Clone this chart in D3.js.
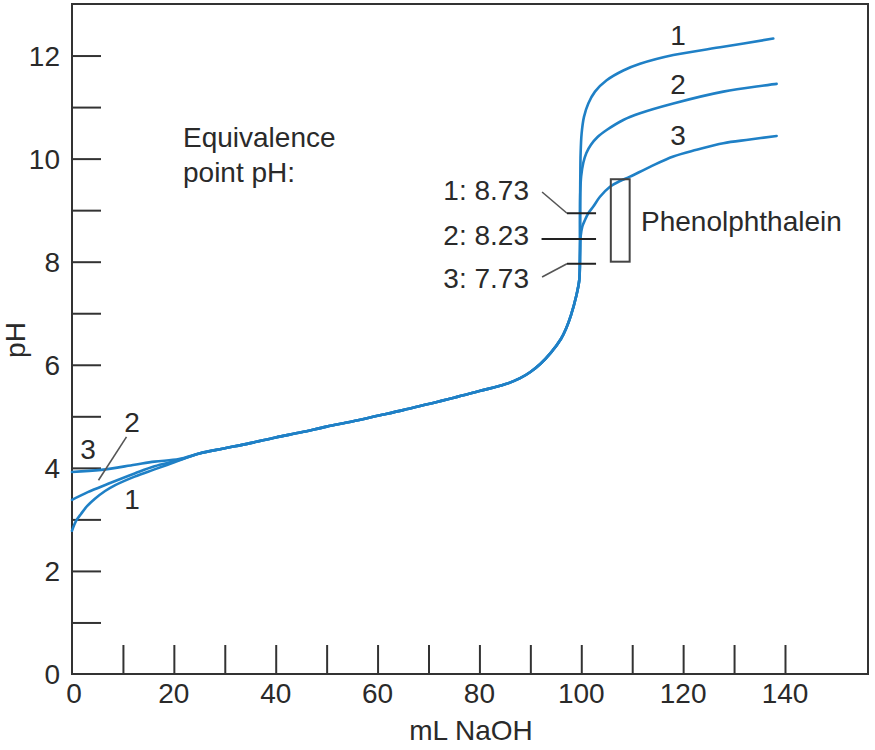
<!DOCTYPE html>
<html><head><meta charset="utf-8">
<script src="https://cdn.jsdelivr.net/npm/d3@7"></script>
<style>
html,body{margin:0;padding:0;background:#fff;}
svg{display:block;}
text{font-family:"Liberation Sans",Arial,Helvetica,sans-serif;fill:#2a2a2a;}
</style></head>
<body><svg id="chart" width="875" height="750"></svg>
<script>
// ---- data ----
const xTicks = [0,10,20,30,40,50,60,70,80,90,100,110,120,130,140];
const xTickLabels = [0,20,40,60,80,100,120,140];
const yTicks = [1,2,3,4,5,6,7,8,9,10,11,12];
const yTickLabels = [0,2,4,6,8,10,12];

// initial parts (before the curves merge)
const start1ML = [0,0.8,1.8,3,4.5,6.5,8.4,12.3,16.2,21];
const start1PH = [2.78,2.97,3.11,3.26,3.40,3.55,3.66,3.83,3.97,4.14];
const start2ML = [0,3.1,7.1,12.3,16.2,21];
const start2PH = [3.38,3.53,3.69,3.89,4.03,4.15];
const start3ML = [0,5.75,12.3,16.2,21];
const start3PH = [3.92,3.96,4.06,4.12,4.17];

// shared buffer region
const sharedML = [25,30,35,40,45,50,55,60,65,70,75,80,85,88,90,92,94,96,97,98,99,99.6,99.75];
const sharedPH = [4.28,4.38,4.48,4.59,4.69,4.80,4.90,5.01,5.12,5.24,5.36,5.49,5.62,5.74,5.86,6.02,6.23,6.50,6.70,6.97,7.33,7.64,8.16];

// tails after the equivalence point
const tail1ML = [99.76,99.78,99.81,99.87,100.07,100.53,101.38,102.69,104.98,108.25,111.53,118.07,127.89,137.7];
const tail1PH = [8.81,9.33,9.65,10.10,10.49,10.81,11.07,11.30,11.52,11.71,11.84,12.01,12.17,12.33];
const tail2ML = [99.76,99.8,99.98,100.4,101.0,101.9,103.2,104.98,108.25,111.53,118.07,127.89,138.36];
const tail2PH = [8.81,9.33,9.66,9.92,10.11,10.27,10.42,10.555,10.75,10.88,11.07,11.30,11.45];
const tail3ML = [99.87,100.2,100.73,101.38,102.36,103.67,105.64,107.6,109.56,113.5,118.07,122.65,127.89,133.1,138.36];
const tail3PH = [8.485,8.68,8.81,8.94,9.07,9.26,9.455,9.565,9.65,9.84,10.04,10.17,10.30,10.37,10.44];

const eqLabels = ["1: 8.73","2: 8.23","3: 7.73"];
const eqMarkPH = [8.94,8.44,7.96];
const phenolRange = [8.0,9.6];

// ---- chart ----
const svg = d3.select("#chart");
const x = d3.scaleLinear().domain([0,156.3]).range([72,868]);
const y = d3.scaleLinear().domain([0,13]).range([674,4]);
const axisColor = "#333";

function pts(mlA, phA){ return mlA.map((m,i)=>[m,phA[i]]); }
const curves = [
  pts(start1ML,start1PH).concat(pts(sharedML,sharedPH), pts(tail1ML,tail1PH)),
  pts(start2ML,start2PH).concat(pts(sharedML,sharedPH), pts(tail2ML,tail2PH)),
  pts(start3ML,start3PH).concat(pts(sharedML,sharedPH), pts(tail3ML,tail3PH))
];

const line = d3.line().x(d=>x(d[0])).y(d=>y(d[1])).curve(d3.curveCatmullRom.alpha(0.5));

// frame
svg.append("rect").attr("x",x(0)).attr("y",y(13)).attr("width",x(156.3)-x(0)).attr("height",y(0)-y(13))
  .attr("fill","none").attr("stroke",axisColor).attr("stroke-width",2);

// bottom ticks (inside, pointing up)
const xAxis = d3.axisBottom(x).tickValues(xTicks.filter(v=>v>0)).tickSizeInner(-29).tickSizeOuter(0).tickFormat("");
const gx = svg.append("g").attr("transform",`translate(0,${y(0)})`).call(xAxis);
gx.select(".domain").remove();
gx.selectAll(".tick line").attr("stroke",axisColor).attr("stroke-width",2);

// left ticks (inside, pointing right)
const yAxis = d3.axisLeft(y).tickValues(yTicks).tickSizeInner(-29).tickSizeOuter(0).tickFormat("");
const gy = svg.append("g").attr("transform",`translate(${x(0)},0)`).call(yAxis);
gy.select(".domain").remove();
gy.selectAll(".tick line").attr("stroke",axisColor).attr("stroke-width",2);

// tick labels
svg.append("g").selectAll("text").data(xTickLabels).join("text")
  .attr("x",d=>x(d)+(d===0?2:0)).attr("y",703).attr("text-anchor","middle")
  .attr("font-size",28).text(d=>d);
svg.append("g").selectAll("text").data(yTickLabels).join("text")
  .attr("x",60).attr("y",d=>y(d)).attr("dy","0.36em").attr("text-anchor","end")
  .attr("font-size",28).text(d=>d);

// axis titles
svg.append("text").attr("x",471).attr("y",740).attr("text-anchor","middle").attr("font-size",28).text("mL NaOH");
svg.append("text").attr("transform","translate(25,340) rotate(-90)").attr("text-anchor","middle").attr("font-size",28).text("pH");

// curves
svg.append("g").selectAll("path").data(curves).join("path")
  .attr("d",line).attr("fill","none").attr("stroke","#1f80c6").attr("stroke-width",2.6)
  .attr("stroke-linejoin","round").attr("stroke-linecap","round");

// curve labels at right
const rightLab = [["1",12.2],["2",11.25],["3",10.26]];
svg.append("g").selectAll("text").data(rightLab).join("text")
  .attr("x",x(119)).attr("y",d=>y(d[1])).attr("text-anchor","middle").attr("font-size",28).text(d=>d[0]);

// curve labels at left
svg.append("text").attr("x",88).attr("y",459).attr("text-anchor","middle").attr("font-size",28).text("3");
svg.append("text").attr("x",132).attr("y",432).attr("text-anchor","middle").attr("font-size",28).text("2");
svg.append("text").attr("x",132).attr("y",509).attr("text-anchor","middle").attr("font-size",28).text("1");
svg.append("line").attr("x1",x(10.7)).attr("y1",y(4.60)).attr("x2",x(5.2)).attr("y2",y(3.76))
  .attr("stroke","#555").attr("stroke-width",1.6);

// equivalence note
svg.append("text").attr("x",183).attr("y",147).attr("font-size",28).text("Equivalence");
svg.append("text").attr("x",183).attr("y",182).attr("font-size",28).text("point pH:");

// equivalence marks
const eqTextY = [200,245,288];
svg.append("g").selectAll("text").data(eqLabels).join("text")
  .attr("x",529).attr("y",(d,i)=>eqTextY[i]).attr("text-anchor","end").attr("font-size",28).text(d=>d);
svg.append("g").selectAll("line").data(eqMarkPH).join("line")
  .attr("x1",(d,i)=>i===1?x(92.2):x(97.2)).attr("x2",x(102.9))
  .attr("y1",d=>y(d)).attr("y2",d=>y(d)).attr("stroke","#222").attr("stroke-width",2);
svg.append("line").attr("x1",x(92.3)).attr("y1",192).attr("x2",x(97.2)).attr("y2",y(eqMarkPH[0]))
  .attr("stroke","#555").attr("stroke-width",1.6);
svg.append("line").attr("x1",x(92.3)).attr("y1",277).attr("x2",x(97.2)).attr("y2",y(eqMarkPH[2]))
  .attr("stroke","#555").attr("stroke-width",1.6);

// phenolphthalein range box
svg.append("rect").attr("x",x(105.8)).attr("y",y(phenolRange[1])).attr("width",x(109.5)-x(105.8))
  .attr("height",y(phenolRange[0])-y(phenolRange[1])).attr("fill","none").attr("stroke","#444").attr("stroke-width",2);
svg.append("text").attr("x",641).attr("y",231).attr("font-size",28).text("Phenolphthalein");
</script></body></html>
